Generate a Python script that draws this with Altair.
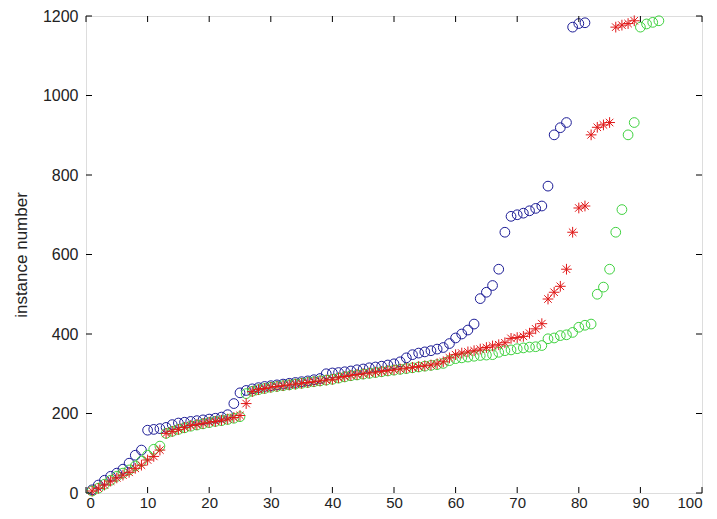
import altair as alt
import pandas as pd

# instance numbers (sorted) for each solver; x = number of solved instances (rank)
blue_y = [8, 20, 32, 42, 50, 60, 75, 95, 108, 158, 160, 162, 165, 172, 176, 178, 180, 182, 184, 186,
          188, 191, 197, 225, 252, 258, 262, 265, 268, 270, 272, 274, 276, 278, 280, 282, 285, 288, 300, 302,
          303, 305, 307, 310, 312, 315, 317, 319, 322, 325, 330, 340, 348, 352, 355, 358, 362, 366, 376, 390,
          400, 410, 425, 489, 505, 522, 563, 656, 696, 700, 704, 710, 716, 722, 772, 901, 919, 932, 1172, 1181,
          1183]
red_y = [5, 12, 20, 30, 38, 45, 52, 62, 70, 83, 92, 108, 150, 155, 160, 165, 170, 172, 175, 178,
         180, 183, 186, 190, 195, 225, 255, 260, 263, 266, 268, 270, 272, 274, 276, 278, 280, 282, 284, 286,
         290, 293, 296, 298, 300, 302, 304, 306, 308, 310, 312, 314, 316, 318, 320, 322, 325, 330, 340, 348,
         352, 355, 358, 362, 366, 370, 373, 378, 389, 391, 394, 402, 413, 426, 488, 505, 520, 563, 656, 717,
         722, 901, 920, 926, 932, 1172, 1177, 1181, 1188]
green_y = [5, 12, 22, 32, 42, 50, 58, 68, 80, 95, 110, 118, 150, 155, 160, 164, 168, 171, 174, 177,
           180, 182, 185, 188, 192, 250, 256, 260, 263, 266, 268, 270, 272, 274, 276, 278, 280, 282, 284, 286,
           289, 292, 295, 297, 299, 301, 303, 305, 307, 309, 311, 313, 315, 317, 319, 321, 323, 326, 333, 338,
           340, 342, 344, 346, 347, 348, 354, 358, 360, 363, 365, 367, 368, 371, 388, 390, 396, 398, 404, 417,
           422, 425, 500, 518, 563, 656, 713, 901, 932, 1172, 1180, 1184, 1188]

x_ticks = [0, 10, 20, 30, 40, 50, 60, 70, 80, 90, 100]
y_ticks = [0, 200, 400, 600, 800, 1000, 1200]

W, H = 616, 477

def frame(ys):
    return pd.DataFrame({"x": list(range(1, len(ys) + 1)), "y": ys})

xs = alt.Scale(domain=[0, 100], nice=False, zero=False)
ys = alt.Scale(domain=[0, 1200], nice=False, zero=False)

X = alt.X("x:Q", scale=xs, axis=alt.Axis(values=x_ticks, ticks=False, domain=False, grid=False, format="d",
                                          labelFontSize=15, labelFont="Liberation Sans", labelColor="#222",
                                          labelPadding=2, title=None))
Y = alt.Y("y:Q", scale=ys, axis=alt.Axis(values=y_ticks, ticks=False, domain=False, grid=False, format="d",
                                          labelFontSize=16, labelFont="Liberation Sans", labelColor="#222",
                                          labelPadding=8, title="instance number", titleFontSize=17,
                                          titleFont="Liberation Sans", titleFontWeight="normal",
                                          titleColor="#222", titlePadding=12))

blue = alt.Chart(frame(blue_y)).mark_point(shape="circle", filled=False, size=95, strokeWidth=1,
                                             color="#1c1c96", opacity=1).encode(x=X, y=Y)
green = alt.Chart(frame(green_y)).mark_point(shape="circle", filled=False, size=95, strokeWidth=1,
                                               color="#3fd23f", opacity=1).encode(x="x:Q", y="y:Q")
star = "M-1,0L1,0M0,-1L0,1M-0.7,-0.7L0.7,0.7M-0.7,0.7L0.7,-0.7"
red = alt.Chart(frame(red_y)).mark_point(shape=star, filled=False, size=115, strokeWidth=1,
                                           color="#e01818", opacity=1).encode(x="x:Q", y="y:Q")

xt = pd.DataFrame({"x": x_ticks})
yt = pd.DataFrame({"y": y_ticks})
tick_len = 6
bot = alt.Chart(xt).mark_rule(color="black", strokeWidth=1).encode(
    x="x:Q", y=alt.value(H), y2=alt.value(H - tick_len))
top = alt.Chart(xt).mark_rule(color="black", strokeWidth=1).encode(
    x="x:Q", y=alt.value(0), y2=alt.value(tick_len))
left = alt.Chart(yt).mark_rule(color="black", strokeWidth=1).encode(
    y="y:Q", x=alt.value(0), x2=alt.value(tick_len))
right = alt.Chart(yt).mark_rule(color="black", strokeWidth=1).encode(
    y="y:Q", x=alt.value(W), x2=alt.value(W - tick_len))

chart = alt.layer(blue, green, red, bot, top, left, right).properties(
    width=W, height=H,
    autosize=alt.AutoSizeParams(type="none"),
    padding={"left": 78, "top": 8, "right": 7, "bottom": 18},
).configure_view(stroke="black", strokeWidth=1.2).configure(background="white")

chart.save("out.html", embed_options={"renderer": "svg", "actions": False})
